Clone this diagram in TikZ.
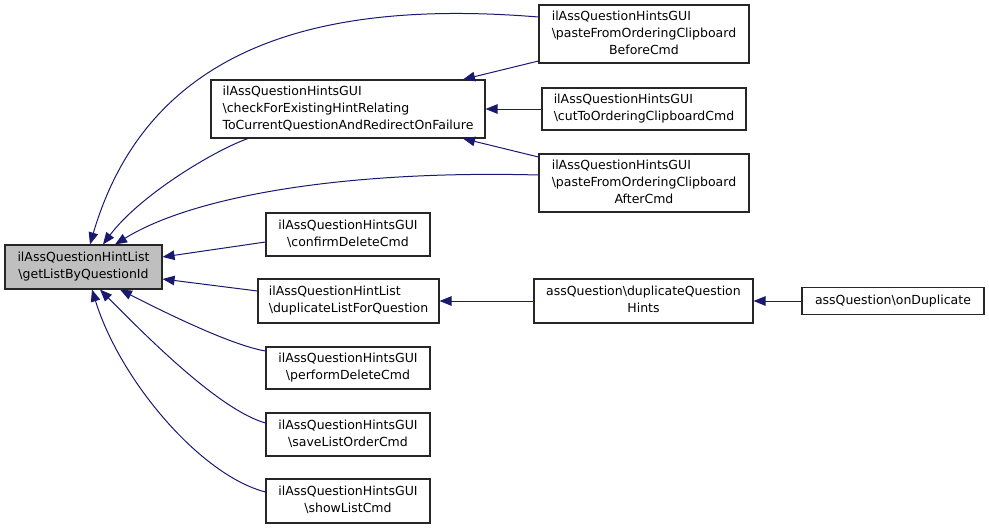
\documentclass[tikz,border=0pt]{standalone}
\usepackage{fontspec}
\setmainfont{DejaVu Sans}
\usetikzlibrary{arrows.meta}
\definecolor{edgeblue}{HTML}{191970}
\definecolor{boxgray}{HTML}{BFBFBF}
\newcommand{\lbl}[2]{\begin{tabular}{@{}#1@{}}#2\end{tabular}}
\begin{document}
\begin{tikzpicture}[x=1pt,y=-1pt,
  box/.style={draw=black!85, line width=1.1pt, fill=white, inner sep=0pt,
    font=\fontsize{12.5}{16.7}\selectfont},
  edge/.style={draw=edgeblue, line width=1pt, -{Triangle[length=12pt,width=9.5pt]}}]
\useasboundingbox (0,0) rectangle (989,528);

\node[box, fill=boxgray, minimum width=157pt, minimum height=44pt] (main) at (83.5,267)
  {\lbl{c}{ilAssQuestionHintList\\\textbackslash getListByQuestionId}};
\node[box, minimum width=210pt, minimum height=58pt] (pB) at (644,34)
  {\lbl{l}{ilAssQuestionHintsGUI\\\textbackslash pasteFromOrderingClipboard\\\multicolumn{1}{@{}c@{}}{BeforeCmd}}};
\node[box, minimum width=274pt, minimum height=58pt] (cF) at (348,109)
  {\lbl{l}{ilAssQuestionHintsGUI\\\textbackslash checkForExistingHintRelating\\ToCurrentQuestionAndRedirectOnFailure}};
\node[box, minimum width=204pt, minimum height=42pt] (cut) at (644,109)
  {\lbl{l}{ilAssQuestionHintsGUI\\\textbackslash cutToOrderingClipboardCmd}};
\node[box, minimum width=210pt, minimum height=58pt] (pA) at (644,183)
  {\lbl{l}{ilAssQuestionHintsGUI\\\textbackslash pasteFromOrderingClipboard\\\multicolumn{1}{@{}c@{}}{AfterCmd}}};
\node[box, minimum width=164pt, minimum height=43pt] (cD) at (348,234.5)
  {\lbl{c}{ilAssQuestionHintsGUI\\\textbackslash confirmDeleteCmd}};
\node[box, minimum width=181pt, minimum height=44pt] (dL) at (348.5,301)
  {\lbl{l}{ilAssQuestionHintList\\\textbackslash duplicateListForQuestion}};
\node[box, minimum width=219pt, minimum height=44pt] (dQ) at (643.5,301)
  {\lbl{c}{assQuestion\textbackslash duplicateQuestion\\Hints}};
\node[box, minimum width=182pt, minimum height=27pt] (oD) at (893,301)
  {assQuestion\textbackslash onDuplicate};
\node[box, minimum width=164pt, minimum height=42pt] (pD) at (348,368)
  {\lbl{c}{ilAssQuestionHintsGUI\\\textbackslash performDeleteCmd}};
\node[box, minimum width=164pt, minimum height=43pt] (sL) at (348,434.5)
  {\lbl{c}{ilAssQuestionHintsGUI\\\textbackslash saveListOrderCmd}};
\node[box, minimum width=164pt, minimum height=44pt] (sh) at (348,501)
  {\lbl{c}{ilAssQuestionHintsGUI\\\textbackslash showListCmd}};

% edges
\draw[edge] ([yshift=17pt]pB.west) .. controls (330,0) and (150,40) .. ([xshift=6.5pt]main.north);
\draw[edge] ([xshift=-100pt]cF.south) .. controls (215,150) and (140,195) .. ([xshift=19.5pt]main.north);
\draw[edge] ([yshift=8pt]pA.west) .. controls (350,170) and (195,195) .. ([xshift=31.5pt]main.north);
\draw[edge] ([yshift=-27pt]pB.west) -- ([xshift=115pt]cF.north);
\draw[edge] (cut.west) -- (cF.east);
\draw[edge] ([yshift=26pt]pA.west) -- ([xshift=115pt]cF.south);
\draw[edge] ([yshift=-7.5pt]cD.west) -- ([yshift=10pt]main.east);
\draw[edge] ([yshift=10pt]dL.west) -- ([yshift=-12pt]main.east);
\draw[edge] (dQ.west) -- (dL.east);
\draw[edge] (oD.west) -- (dQ.east);
\draw[edge] ([yshift=17pt]pD.west) .. controls (230,345) and (160,310) .. ([xshift=36.5pt]main.south);
\draw[edge] ([yshift=11.5pt]sL.west) .. controls (220,410) and (150,340) .. ([xshift=16.5pt]main.south);
\draw[edge] ([yshift=9pt]sh.west) .. controls (200,475) and (120,380) .. ([xshift=8.5pt]main.south);
\end{tikzpicture}
\end{document}
